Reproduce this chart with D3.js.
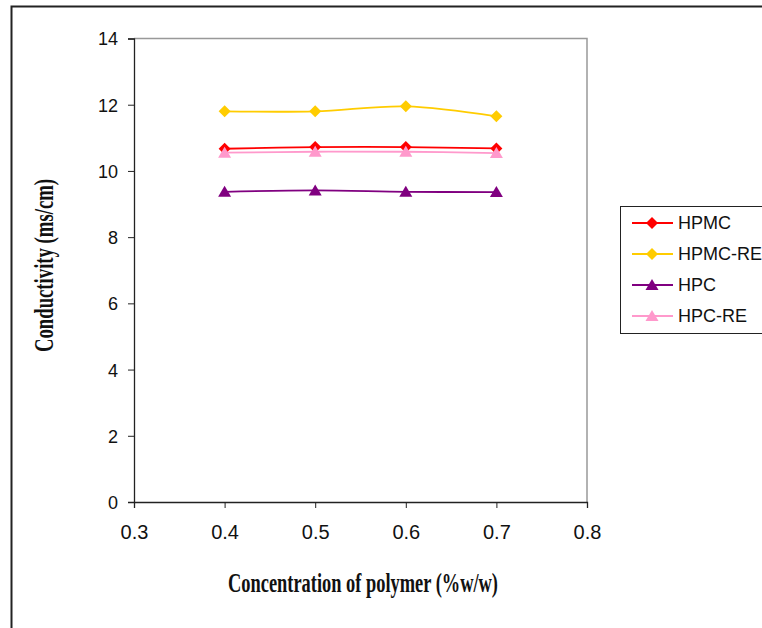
<!DOCTYPE html>
<html>
<head>
<meta charset="utf-8">
<script src="https://cdn.jsdelivr.net/npm/d3@7"></script>
<style>
  body { margin: 0; background: #fff; }
  text { font-family: Arial, "Liberation Sans", sans-serif; }
</style>
</head>
<body>
<div id="chart"></div>
<script>
// values
var concentrations = [0.4, 0.5, 0.6, 0.7];
var hpmc   = [10.67, 10.72, 10.72, 10.68];
var hpmcRe = [11.80, 11.80, 11.95, 11.65];
var hpc    = [9.37, 9.41, 9.37, 9.36];
var hpcRe  = [10.55, 10.58, 10.58, 10.54];
var seriesNames = ["HPMC", "HPMC-RE", "HPC", "HPC-RE"];
var xTicks = [0.3, 0.4, 0.5, 0.6, 0.7, 0.8];
var yTicks = [0, 2, 4, 6, 8, 10, 12, 14];

var series = [
    {name: seriesNames[0], values: hpmc,   color: "#ff0000", shape: "diamond"},
    {name: seriesNames[1], values: hpmcRe, color: "#ffcc00", shape: "diamond"},
    {name: seriesNames[2], values: hpc,    color: "#800080", shape: "triangle"},
    {name: seriesNames[3], values: hpcRe,  color: "#ff99cc", shape: "triangle"}
];

var width = 762, height = 628;
var plot = {left: 134, right: 587, top: 38.5, bottom: 502};

var svg = d3.select("#chart").append("svg")
    .attr("width", width)
    .attr("height", height);

// outer frame (runs off right/bottom edge)
svg.append("rect")
    .attr("x", 11.5).attr("y", 6.5)
    .attr("width", 760).attr("height", 640)
    .attr("fill", "none")
    .attr("stroke", "#222")
    .attr("stroke-width", 2);

var x = d3.scaleLinear().domain([0.3, 0.8]).range([plot.left, plot.right]);
var y = d3.scaleLinear().domain([0, 14]).range([plot.bottom, plot.top]);

// plot area top/right border in grey
svg.append("path")
    .attr("d", "M" + plot.left + "," + plot.top + "H" + plot.right + "V" + plot.bottom)
    .attr("fill", "none")
    .attr("stroke", "#999")
    .attr("stroke-width", 1.5);

var yAxis = svg.append("g")
    .attr("transform", "translate(" + plot.left + ",0)")
    .call(d3.axisLeft(y).tickValues(yTicks).tickSize(6).tickPadding(10).tickFormat(d3.format("d")));

var xAxis = svg.append("g")
    .attr("transform", "translate(0," + plot.bottom + ")")
    .call(d3.axisBottom(x).tickValues(xTicks).tickSize(6).tickPadding(17).tickFormat(d3.format(".1f")));

[xAxis, yAxis].forEach(function (ax) {
    ax.attr("font-family", "Arial, 'Liberation Sans', sans-serif");
    ax.select(".domain").attr("stroke", "#222").attr("stroke-width", 1.3);
    ax.selectAll(".tick line").attr("stroke", "#222");
    ax.selectAll("text").attr("fill", "#111");
});
yAxis.attr("font-size", 18);
xAxis.attr("font-size", 20);
yAxis.selectAll("text").attr("dy", "0.36em");

// markers: wide diamond (rotated square) and triangle, like Excel
function marker(shape) {
    if (shape === "diamond") return "M0,-6L6,0L0,6L-6,0Z";
    return "M0,-6L6.5,5L-6.5,5Z";
}

// lines, slightly smoothed like the original
var line = d3.line()
    .x(function (d, i) { return x(concentrations[i]); })
    .y(function (d) { return y(d); })
    .curve(d3.curveCatmullRom.alpha(0.5));

var g = svg.append("g");
series.forEach(function (s) {
    g.append("path")
        .attr("d", line(s.values))
        .attr("fill", "none")
        .attr("stroke", s.color)
        .attr("stroke-width", 1.8);
    g.selectAll(null)
        .data(s.values)
        .enter().append("path")
        .attr("transform", function (d, i) {
            return "translate(" + x(concentrations[i]) + "," + y(d) + ")";
        })
        .attr("d", marker(s.shape))
        .attr("fill", s.color);
});

// legend (box runs past the right edge, as in the original)
var legend = svg.append("g");
legend.append("rect")
    .attr("x", 620.5).attr("y", 206.5)
    .attr("width", 160).attr("height", 127)
    .attr("fill", "#fff")
    .attr("stroke", "#222")
    .attr("stroke-width", 1);

series.forEach(function (s, i) {
    var ly = 223 + i * 31;
    legend.append("line")
        .attr("x1", 632).attr("x2", 673)
        .attr("y1", ly).attr("y2", ly)
        .attr("stroke", s.color)
        .attr("stroke-width", 1.8);
    legend.append("path")
        .attr("transform", "translate(652," + ly + ")")
        .attr("d", marker(s.shape))
        .attr("fill", s.color);
    legend.append("text")
        .attr("x", 678).attr("y", ly)
        .attr("dy", "0.36em")
        .style("font-size", "18px")
        .attr("fill", "#111")
        .text(s.name);
});

// axis titles (condensed bold serif)
svg.append("text")
    .attr("x", 228).attr("y", 592)
    .attr("textLength", 270)
    .attr("lengthAdjust", "spacingAndGlyphs")
    .style("font-family", "'Liberation Serif', 'Times New Roman', serif")
    .style("font-weight", "bold")
    .style("font-size", "27px")
    .attr("fill", "#111")
    .text("Concentration of polymer (%w/w)");

svg.append("text")
    .attr("transform", "translate(53,352) rotate(-90)")
    .attr("textLength", 173)
    .attr("lengthAdjust", "spacingAndGlyphs")
    .style("font-family", "'Liberation Serif', 'Times New Roman', serif")
    .style("font-weight", "bold")
    .style("font-size", "27px")
    .attr("fill", "#111")
    .text("Conductivity (ms/cm)");
</script>
</body>
</html>
